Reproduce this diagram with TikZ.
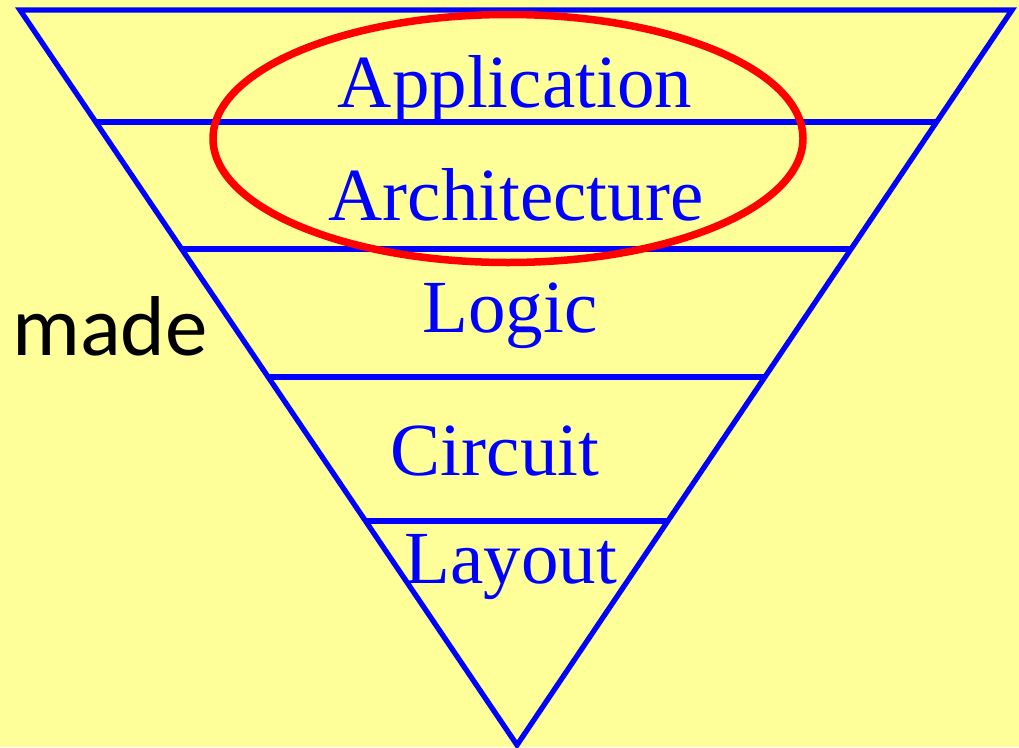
\documentclass[tikz,border=0pt]{standalone}
\usepackage{fontspec}
\setmainfont{Liberation Serif}
\newfontfamily\madefont{Carlito}
\usetikzlibrary{calc}
\definecolor{bgyellow}{HTML}{FFFF99}
\definecolor{layerblue}{HTML}{0000FF}
\definecolor{ringred}{HTML}{FF0000}
\begin{document}
\begin{tikzpicture}[x=1pt,y=-1pt,
  edge/.style={draw=layerblue,line width=5.3pt},
  layer/.style={text=layerblue,font=\fontsize{75}{80}\selectfont,inner sep=0pt,anchor=base},
  ring/.style={draw=ringred,line width=7.5pt}]
\fill[bgyellow] (0,0) rectangle (1019,747);
\useasboundingbox (0,0) rectangle (1019,747);
\coordinate (tl) at (20,10);
\coordinate (tr) at (1012,10);
\coordinate (ap) at (517,745);
\draw[edge] (tl) -- (tr) -- (ap) -- cycle;
\foreach \t/\n in {0.1524/a,0.3252/b,0.4993/c,0.6952/d}{
  \coordinate (l\n) at ($(tl)!\t!(ap)$);
  \coordinate (r\n) at ($(tr)!\t!(ap)$);
  \draw[edge] (l\n) -- (r\n);
}
\node[layer] (app) at (515,107) {Application};
\node[layer] (arch) at (516,220) {Architecture};
\node[layer] (logic) at (510,332) {Logic};
\node[layer] (circ) at (495,475) {Circuit};
\node[layer] (lay) at (511,583) {Layout};
\node[anchor=base west,inner sep=0pt,font=\madefont\fontsize{85}{90}\selectfont] (made) at (12,355) {made};
\draw[ring] (508,138.5) ellipse [x radius=295,y radius=124];
\end{tikzpicture}
\end{document}
